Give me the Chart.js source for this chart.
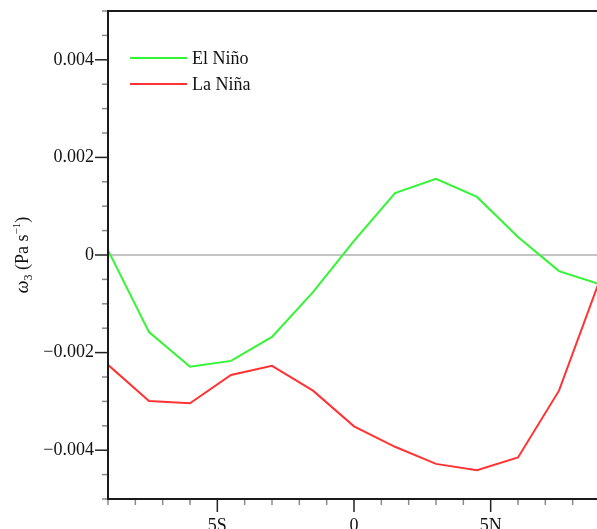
<!DOCTYPE html>
<html lang="en">
<head>
    <meta charset="UTF-8">
    <title>omega3 El Niño / La Niña</title>
    <script src="https://cdn.jsdelivr.net/npm/chart.js"></script>
    <style>
        html, body { margin: 0; padding: 0; background: #fff; overflow: hidden; }
        #wrap { width: 600px; height: 529px; }
    </style>
</head>
<body>
    <div id="wrap"><canvas id="grafico"></canvas></div>

    <script>
        // latitude (negative = south)
        const latitudes = [-9, -7.5, -6, -4.5, -3, -1.5, 0, 1.5, 3, 4.5, 6, 7.5, 9];
        const elNino = [0.0001, -0.00158, -0.00229, -0.00217, -0.00168, -0.00076, 0.00029, 0.00127, 0.00156, 0.00119, 0.00037, -0.00033, -0.0006];
        const laNina = [-0.00225, -0.00299, -0.00304, -0.00246, -0.00227, -0.00278, -0.00351, -0.00393, -0.00428, -0.00441, -0.00415, -0.00278, -0.0005];

        const xTickValues = [-5, 0, 5];
        const xTickLabels = ["5S", "0", "5N"];
        const yTickValues = [-0.004, -0.002, 0, 0.002, 0.004];
        const yTickLabels = ["\u22120.004", "\u22120.002", "0", "0.002", "0.004"];

        const serif = "'Liberation Serif', 'Times New Roman', serif";

        // frame, minor/major ticks, legend and y title
        const extras = {
            id: 'extras',
            afterDraw(chart) {
                const c = chart.ctx;
                const a = chart.chartArea;
                const xs = chart.scales.x, ys = chart.scales.y;
                c.save();

                // ticks (outside the frame)
                for (let v = -9; v <= 9; v++) {
                    const px = xs.getPixelForValue(v);
                    const major = xTickValues.includes(v);
                    c.strokeStyle = major ? '#222' : '#8a8a8a';
                    c.lineWidth = 1.5;
                    c.beginPath();
                    c.moveTo(px, a.bottom);
                    c.lineTo(px, a.bottom + (major ? 13 : 6));
                    c.stroke();
                }
                for (let k = -10; k <= 10; k++) {
                    const v = k * 0.0005;
                    const py = ys.getPixelForValue(v);
                    const major = k % 4 === 0 && Math.abs(k) < 10;
                    c.strokeStyle = major ? '#222' : '#8a8a8a';
                    c.lineWidth = 1.5;
                    c.beginPath();
                    c.moveTo(a.left, py);
                    c.lineTo(a.left - (major ? 13 : 6), py);
                    c.stroke();
                }

                // frame
                c.strokeStyle = '#1a1a1a';
                c.lineWidth = 2;
                c.strokeRect(a.left, a.top, a.right - a.left, a.bottom - a.top);

                // legend
                c.font = '18px ' + serif;
                c.textBaseline = 'middle';
                c.textAlign = 'left';
                chart.data.datasets.forEach((ds, i) => {
                    const y = 58 + i * 26;
                    c.strokeStyle = ds.borderColor;
                    c.lineWidth = 2;
                    c.beginPath();
                    c.moveTo(130, y);
                    c.lineTo(187, y);
                    c.stroke();
                    c.fillStyle = '#111';
                    c.fillText(ds.label, 192, y + 1);
                });

                // y title: omega_3 (Pa s^-1)
                const parts = [
                    { t: 'ω', f: 'italic 18px ' + serif, dy: 0 },
                    { t: '3', f: '12px ' + serif, dy: 4 },
                    { t: ' (Pa s', f: '18px ' + serif, dy: 0 },
                    { t: '\u22121', f: '11px ' + serif, dy: -8 },
                    { t: ')', f: '18px ' + serif, dy: 0 }
                ];
                let total = 0;
                parts.forEach(p => { c.font = p.f; p.w = c.measureText(p.t).width; total += p.w; });
                c.translate(28, 255);
                c.rotate(-Math.PI / 2);
                c.textBaseline = 'alphabetic';
                c.fillStyle = '#111';
                let x = -total / 2;
                parts.forEach(p => { c.font = p.f; c.fillText(p.t, x, p.dy); x += p.w; });

                c.restore();
            }
        };

        const ctx = document.getElementById('grafico').getContext('2d');
        const grafico = new Chart(ctx, {
            type: 'line',
            data: {
                datasets: [
                    {
                        label: 'El Niño',
                        data: latitudes.map((lat, i) => ({ x: lat, y: elNino[i] })),
                        borderColor: '#33f533',
                        borderWidth: 2,
                        pointRadius: 0,
                        tension: 0
                    },
                    {
                        label: 'La Niña',
                        data: latitudes.map((lat, i) => ({ x: lat, y: laNina[i] })),
                        borderColor: '#ff3333',
                        borderWidth: 2,
                        pointRadius: 0,
                        tension: 0
                    }
                ]
            },
            options: {
                responsive: true,
                maintainAspectRatio: false,
                animation: false,
                layout: { padding: { top: 11, right: 0, bottom: 0, left: 0 } },
                plugins: { legend: { display: false }, tooltip: { enabled: false } },
                scales: {
                    x: {
                        type: 'linear',
                        min: -9,
                        max: 9,
                        border: { display: false },
                        grid: { display: false, drawTicks: false },
                        afterBuildTicks: s => { s.ticks = xTickValues.map(v => ({ value: v })); },
                        afterFit: s => { s.height = 30; s.paddingLeft = 0; s.paddingRight = 0; },
                        ticks: {
                            padding: 16,
                            maxRotation: 0,
                            autoSkip: false,
                            color: '#111',
                            font: { family: serif, size: 18 },
                            callback: v => xTickLabels[xTickValues.indexOf(v)]
                        }
                    },
                    y: {
                        type: 'linear',
                        min: -0.005,
                        max: 0.005,
                        border: { display: false },
                        grid: {
                            drawTicks: false,
                            lineWidth: 2,
                            color: c => (c.tick && c.tick.value === 0) ? '#c4c4c4' : 'rgba(0,0,0,0)'
                        },
                        afterBuildTicks: s => { s.ticks = yTickValues.map(v => ({ value: v })); },
                        afterFit: s => { s.width = 108; s.paddingTop = 0; s.paddingBottom = 0; },
                        ticks: {
                            padding: 14,
                            color: '#111',
                            font: { family: serif, size: 18 },
                            callback: v => yTickLabels[yTickValues.indexOf(v)]
                        }
                    }
                }
            },
            plugins: [extras]
        });
    </script>
</body>
</html>
